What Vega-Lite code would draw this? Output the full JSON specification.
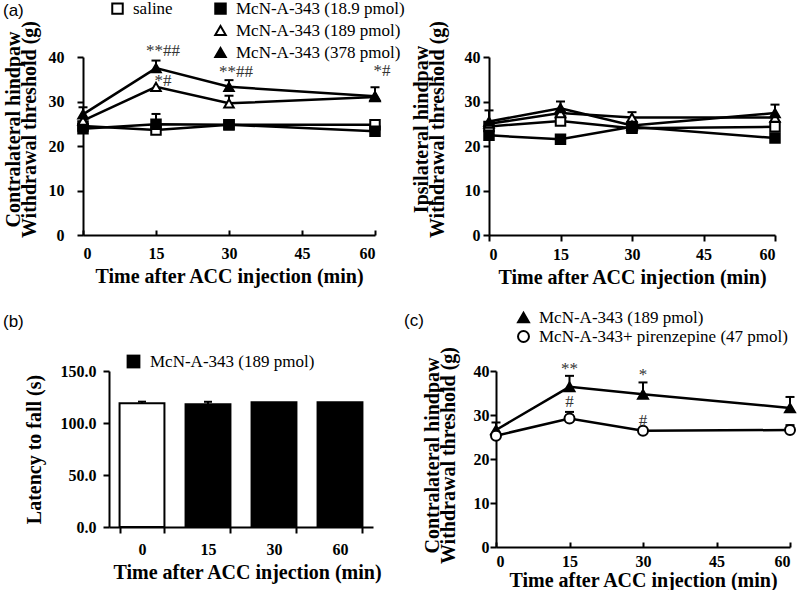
{
  "$schema": "https://vega.github.io/schema/vega-lite/v6.json",
  "background": "white",
  "padding": {"left": 2, "top": 0, "right": 0, "bottom": 0},
  "config": {
    "font": "Liberation Serif",
    "view": {"stroke": null},
    "axis": {"domainColor": "black", "domainWidth": 2, "tickColor": "black", "tickWidth": 2, "labelFont": "Liberation Serif", "labelFontWeight": "bold", "labelFontSize": 16, "labelColor": "black", "titleFont": "Liberation Serif", "titleFontWeight": "bold", "titleFontSize": 20, "titleColor": "black", "grid": false, "labelAngle": 0},
    "legend": {"labelFont": "Liberation Serif", "labelFontSize": 17, "labelColor": "black", "labelLimit": 400},
    "title": {"font": "Liberation Sans", "fontSize": 17, "fontWeight": "normal", "anchor": "start", "frame": "group", "color": "black"}
  },
  "datasets": {
    "pts": [
      {"panel": "contra", "series": "saline", "time": 0, "value": 24.5, "upper": null},
      {"panel": "contra", "series": "saline", "time": 15, "value": 23.6, "upper": null},
      {"panel": "contra", "series": "saline", "time": 30, "value": 24.8, "upper": null},
      {"panel": "contra", "series": "saline", "time": 60, "value": 24.8, "upper": null},
      {"panel": "contra", "series": "McN-A-343 (18.9 pmol)", "time": 0, "value": 23.9, "upper": null},
      {"panel": "contra", "series": "McN-A-343 (18.9 pmol)", "time": 15, "value": 24.9, "upper": 27.2},
      {"panel": "contra", "series": "McN-A-343 (18.9 pmol)", "time": 30, "value": 24.8, "upper": null},
      {"panel": "contra", "series": "McN-A-343 (18.9 pmol)", "time": 60, "value": 23.3, "upper": null},
      {"panel": "contra", "series": "McN-A-343 (189 pmol)", "time": 0, "value": 25.7, "upper": null},
      {"panel": "contra", "series": "McN-A-343 (189 pmol)", "time": 15, "value": 33.3, "upper": null},
      {"panel": "contra", "series": "McN-A-343 (189 pmol)", "time": 30, "value": 29.6, "upper": 31.3},
      {"panel": "contra", "series": "McN-A-343 (189 pmol)", "time": 60, "value": 31.0, "upper": null},
      {"panel": "contra", "series": "McN-A-343 (378 pmol)", "time": 0, "value": 27.1, "upper": 28.7},
      {"panel": "contra", "series": "McN-A-343 (378 pmol)", "time": 15, "value": 37.5, "upper": 39.2},
      {"panel": "contra", "series": "McN-A-343 (378 pmol)", "time": 30, "value": 33.3, "upper": 34.8},
      {"panel": "contra", "series": "McN-A-343 (378 pmol)", "time": 60, "value": 31.2, "upper": 33.2},
      {"panel": "ipsi", "series": "saline", "time": 0, "value": 24.4, "upper": null},
      {"panel": "ipsi", "series": "saline", "time": 15, "value": 25.6, "upper": null},
      {"panel": "ipsi", "series": "saline", "time": 30, "value": 24.0, "upper": null},
      {"panel": "ipsi", "series": "saline", "time": 60, "value": 24.3, "upper": null},
      {"panel": "ipsi", "series": "McN-A-343 (18.9 pmol)", "time": 0, "value": 22.4, "upper": null},
      {"panel": "ipsi", "series": "McN-A-343 (18.9 pmol)", "time": 15, "value": 21.5, "upper": null},
      {"panel": "ipsi", "series": "McN-A-343 (18.9 pmol)", "time": 30, "value": 24.3, "upper": null},
      {"panel": "ipsi", "series": "McN-A-343 (18.9 pmol)", "time": 60, "value": 21.8, "upper": null},
      {"panel": "ipsi", "series": "McN-A-343 (189 pmol)", "time": 0, "value": 25.0, "upper": null},
      {"panel": "ipsi", "series": "McN-A-343 (189 pmol)", "time": 15, "value": 27.4, "upper": null},
      {"panel": "ipsi", "series": "McN-A-343 (189 pmol)", "time": 30, "value": 26.4, "upper": 27.6},
      {"panel": "ipsi", "series": "McN-A-343 (189 pmol)", "time": 60, "value": 26.4, "upper": null},
      {"panel": "ipsi", "series": "McN-A-343 (378 pmol)", "time": 0, "value": 25.5, "upper": 28.0},
      {"panel": "ipsi", "series": "McN-A-343 (378 pmol)", "time": 15, "value": 28.5, "upper": 30.0},
      {"panel": "ipsi", "series": "McN-A-343 (378 pmol)", "time": 30, "value": 24.6, "upper": null},
      {"panel": "ipsi", "series": "McN-A-343 (378 pmol)", "time": 60, "value": 27.4, "upper": 29.3},
      {"panel": "c", "series": "McN-A-343 (189 pmol)", "time": 0, "value": 26.6, "upper": 28.3},
      {"panel": "c", "series": "McN-A-343 (189 pmol)", "time": 15, "value": 36.4, "upper": 38.9},
      {"panel": "c", "series": "McN-A-343 (189 pmol)", "time": 30, "value": 34.7, "upper": 37.4},
      {"panel": "c", "series": "McN-A-343 (189 pmol)", "time": 60, "value": 31.6, "upper": 34.1},
      {"panel": "c", "series": "McN-A-343+ pirenzepine (47 pmol)", "time": 0, "value": 25.3, "upper": null},
      {"panel": "c", "series": "McN-A-343+ pirenzepine (47 pmol)", "time": 15, "value": 29.2, "upper": 30.7},
      {"panel": "c", "series": "McN-A-343+ pirenzepine (47 pmol)", "time": 30, "value": 26.4, "upper": null},
      {"panel": "c", "series": "McN-A-343+ pirenzepine (47 pmol)", "time": 60, "value": 26.6, "upper": 27.7}
    ],
    "ann": [
      {"panel": "contra", "time": 15, "value": 40.2, "label": "**##"},
      {"panel": "contra", "time": 15, "value": 33.5, "label": "*#"},
      {"panel": "contra", "time": 30, "value": 35.5, "label": "**##"},
      {"panel": "contra", "time": 60, "value": 35.7, "label": "*#"},
      {"panel": "c", "time": 15, "value": 39.4, "label": "**"},
      {"panel": "c", "time": 15, "value": 31.9, "label": "#"},
      {"panel": "c", "time": 30, "value": 38.0, "label": "*"},
      {"panel": "c", "time": 30, "value": 27.6, "label": "#"}
    ],
    "bars": [
      {"time": "0", "group": "pre", "value": 119.0, "upper": 120.5},
      {"time": "15", "group": "McN-A-343 (189 pmol)", "value": 118.0, "upper": 120.4},
      {"time": "30", "group": "McN-A-343 (189 pmol)", "value": 120.0, "upper": null},
      {"time": "60", "group": "McN-A-343 (189 pmol)", "value": 120.0, "upper": null}
    ]
  },
  "columns": 1,
  "align": "none",
  "spacing": 22,
  "resolve": {"scale": {"fill": "independent", "stroke": "independent", "shape": "independent"}, "legend": {"fill": "independent", "stroke": "independent", "shape": "independent"}},
  "concat": [
    {
      "spacing": 5,
      "resolve": {"scale": {"fill": "independent", "stroke": "independent", "shape": "independent"}, "legend": {"fill": "independent", "stroke": "independent", "shape": "independent"}},
      "hconcat": [
        {
          "width": 292, "height": 178,
          "title": {"text": "(a)", "dx": -80, "offset": -20},
          "encoding": {
            "x": {"field": "time", "type": "quantitative", "scale": {"domain": [0, 60], "nice": false}, "axis": {"title": "Time after ACC injection (min)", "values": [0, 15, 30, 45, 60], "tickSize": -5, "labelPadding": 15, "titlePadding": 5}},
            "y": {"field": "value", "type": "quantitative", "scale": {"domain": [0, 40], "nice": false}, "axis": {"title": ["Contralateral hindpaw", "Withdrawal threshold (g)"], "values": [0, 10, 20, 30, 40], "tickSize": 6, "labelPadding": 13, "titleBaseline": "top", "titleX": -80, "titleY": 72, "titleLineHeight": 16}}
          },
          "layer": [
            {"data": {"name": "pts"}, "transform": [{"filter": "datum.panel === 'contra' && isValid(datum.upper)"}], "mark": {"type": "rule", "color": "black", "strokeWidth": 2}, "encoding": {"y2": {"field": "upper"}}},
            {"data": {"name": "pts"}, "transform": [{"filter": "datum.panel === 'contra' && isValid(datum.upper)"}], "mark": {"type": "tick", "orient": "horizontal", "size": 9, "thickness": 2, "color": "black", "opacity": 1}, "encoding": {"y": {"field": "upper", "type": "quantitative"}}},
            {"data": {"name": "pts"}, "transform": [{"filter": "datum.panel === 'contra'"}], "mark": {"type": "line", "color": "black", "strokeWidth": 2.5}, "encoding": {"detail": {"field": "series"}}},
            {"data": {"name": "pts"}, "transform": [{"filter": "datum.panel === 'contra'"}], "mark": {"type": "point", "size": 90, "strokeWidth": 2, "opacity": 1},
             "encoding": {
               "shape": {"field": "series", "type": "nominal", "scale": {"domain": ["saline", " ", "  ", "McN-A-343 (18.9 pmol)", "McN-A-343 (189 pmol)", "McN-A-343 (378 pmol)"], "range": ["square", "square", "square", "square", "triangle-up", "triangle-up"]}, "legend": {"orient": "none", "legendX": 26, "legendY": -57, "title": null, "columns": 2, "columnPadding": 38, "rowPadding": 3, "symbolSize": 110, "symbolStrokeWidth": 2, "labelOffset": 7, "labelFont": "Liberation Serif", "labelFontSize": 17}},
               "fill": {"field": "series", "type": "nominal", "scale": {"domain": ["saline", " ", "  ", "McN-A-343 (18.9 pmol)", "McN-A-343 (189 pmol)", "McN-A-343 (378 pmol)"], "range": ["white", "transparent", "transparent", "black", "white", "black"]}, "legend": {"orient": "none", "legendX": 26, "legendY": -57, "title": null, "columns": 2, "columnPadding": 38, "rowPadding": 3, "symbolSize": 110, "symbolStrokeWidth": 2, "labelOffset": 7, "labelFont": "Liberation Serif", "labelFontSize": 17}},
               "stroke": {"field": "series", "type": "nominal", "scale": {"domain": ["saline", " ", "  ", "McN-A-343 (18.9 pmol)", "McN-A-343 (189 pmol)", "McN-A-343 (378 pmol)"], "range": ["black", "transparent", "transparent", "black", "black", "black"]}, "legend": {"orient": "none", "legendX": 26, "legendY": -57, "title": null, "columns": 2, "columnPadding": 38, "rowPadding": 3, "symbolSize": 110, "symbolStrokeWidth": 2, "labelOffset": 7, "labelFont": "Liberation Serif", "labelFontSize": 17}}
             }},
            {"data": {"name": "ann"}, "transform": [{"filter": "datum.panel === 'contra'"}], "mark": {"type": "text", "dx": 7, "fontSize": 17, "font": "Liberation Serif", "color": "#333", "baseline": "alphabetic", "align": "center"}, "encoding": {"text": {"field": "label"}}}
          ]
        },
        {
          "width": 286, "height": 178,
          "encoding": {
            "x": {"field": "time", "type": "quantitative", "scale": {"domain": [0, 60], "nice": false}, "axis": {"title": "Time after ACC injection (min)", "values": [0, 15, 30, 45, 60], "tickSize": 6, "labelPadding": 5, "titlePadding": 5}},
            "y": {"field": "value", "type": "quantitative", "scale": {"domain": [0, 40], "nice": false}, "axis": {"title": ["Ipsilateral hindpaw", "Withdrawal threshold (g)"], "values": [0, 10, 20, 30, 40], "tickSize": 6, "labelPadding": 3, "titleBaseline": "top", "titleX": -78, "titleY": 72, "titleLineHeight": 16}}
          },
          "layer": [
            {"data": {"name": "pts"}, "transform": [{"filter": "datum.panel === 'ipsi' && isValid(datum.upper)"}], "mark": {"type": "rule", "color": "black", "strokeWidth": 2}, "encoding": {"y2": {"field": "upper"}}},
            {"data": {"name": "pts"}, "transform": [{"filter": "datum.panel === 'ipsi' && isValid(datum.upper)"}], "mark": {"type": "tick", "orient": "horizontal", "size": 9, "thickness": 2, "color": "black", "opacity": 1}, "encoding": {"y": {"field": "upper", "type": "quantitative"}}},
            {"data": {"name": "pts"}, "transform": [{"filter": "datum.panel === 'ipsi'"}], "mark": {"type": "line", "color": "black", "strokeWidth": 2.5}, "encoding": {"detail": {"field": "series"}}},
            {"data": {"name": "pts"}, "transform": [{"filter": "datum.panel === 'ipsi'"}], "mark": {"type": "point", "size": 90, "strokeWidth": 2, "opacity": 1},
             "encoding": {
               "shape": {"field": "series", "type": "nominal", "scale": {"domain": ["saline", "McN-A-343 (18.9 pmol)", "McN-A-343 (189 pmol)", "McN-A-343 (378 pmol)"], "range": ["square", "square", "triangle-up", "triangle-up"]}, "legend": null},
               "fill": {"field": "series", "type": "nominal", "scale": {"domain": ["saline", "McN-A-343 (18.9 pmol)", "McN-A-343 (189 pmol)", "McN-A-343 (378 pmol)"], "range": ["white", "black", "white", "black"]}, "legend": null},
               "stroke": {"field": "series", "type": "nominal", "scale": {"domain": ["saline", "McN-A-343 (18.9 pmol)", "McN-A-343 (189 pmol)", "McN-A-343 (378 pmol)"], "range": ["black", "black", "black", "black"]}, "legend": null}
             }}
          ]
        }
      ]
    },
    {
      "spacing": 22,
      "resolve": {"scale": {"fill": "independent", "stroke": "independent", "shape": "independent"}, "legend": {"fill": "independent", "stroke": "independent", "shape": "independent"}},
      "hconcat": [
        {
          "width": 290, "height": 156,
          "title": {"text": "(b)", "dx": -80, "offset": 22},
          "data": {"name": "bars"},
          "encoding": {
            "x": {"field": "time", "type": "ordinal", "sort": ["0", "15", "30", "60"], "scale": {"range": [26, 290], "paddingInner": 0.32, "paddingOuter": 0.16}, "axis": {"title": "Time after ACC injection (min)", "tickBand": "extent", "tickSize": 6, "labelPadding": 8, "titlePadding": 5, "labelAngle": 0, "titleX": 164}},
            "y": {"field": "value", "type": "quantitative", "scale": {"domain": [0, 150], "nice": false}, "axis": {"title": "Latency to fall (s)", "values": [0, 50, 100, 150], "format": ".1f", "offset": -26, "tickSize": 6, "labelPadding": 7, "titleX": -65}}
          },
          "layer": [
            {"transform": [{"filter": "isValid(datum.upper)"}], "mark": {"type": "rule", "color": "black", "strokeWidth": 2}, "encoding": {"y2": {"field": "upper"}}},
            {"transform": [{"filter": "isValid(datum.upper)"}], "mark": {"type": "tick", "orient": "horizontal", "size": 8, "thickness": 2, "color": "black", "opacity": 1}, "encoding": {"y": {"field": "upper", "type": "quantitative"}}},
            {"mark": {"type": "bar", "stroke": "black", "strokeWidth": 2}, "encoding": {"fill": {"field": "group", "type": "nominal", "scale": {"domain": ["pre", "McN-A-343 (189 pmol)"], "range": ["white", "black"]}, "legend": {"values": ["McN-A-343 (189 pmol)"], "orient": "none", "legendX": 42, "legendY": -18, "title": null, "symbolType": "square", "symbolSize": 190, "symbolStrokeWidth": 0, "labelFont": "Liberation Serif", "labelFontSize": 17, "labelOffset": 8}}}}
          ]
        },
        {
          "width": 294, "height": 176,
          "title": {"text": "(c)", "dx": -92, "offset": -21},
          "encoding": {
            "x": {"field": "time", "type": "quantitative", "scale": {"domain": [0, 60], "nice": false}, "axis": {"title": "Time after ACC injection (min)", "values": [0, 15, 30, 45, 60], "tickSize": -5, "labelPadding": 11, "titlePadding": 1}},
            "y": {"field": "value", "type": "quantitative", "scale": {"domain": [0, 40], "nice": false}, "axis": {"title": ["Contralateral hindpaw", "Withdrawal threshold (g)"], "values": [0, 10, 20, 30, 40], "tickSize": 6, "labelPadding": 1, "titleBaseline": "top", "titleX": -74, "titleY": 84, "titleLineHeight": 16}}
          },
          "layer": [
            {"data": {"name": "pts"}, "transform": [{"filter": "datum.panel === 'c' && isValid(datum.upper)"}], "mark": {"type": "rule", "color": "black", "strokeWidth": 2}, "encoding": {"y2": {"field": "upper"}}},
            {"data": {"name": "pts"}, "transform": [{"filter": "datum.panel === 'c' && isValid(datum.upper)"}], "mark": {"type": "tick", "orient": "horizontal", "size": 9, "thickness": 2, "color": "black", "opacity": 1}, "encoding": {"y": {"field": "upper", "type": "quantitative"}}},
            {"data": {"name": "pts"}, "transform": [{"filter": "datum.panel === 'c'"}], "mark": {"type": "line", "color": "black", "strokeWidth": 2.5}, "encoding": {"detail": {"field": "series"}}},
            {"data": {"name": "pts"}, "transform": [{"filter": "datum.panel === 'c'"}], "mark": {"type": "point", "size": 100, "strokeWidth": 2, "opacity": 1},
             "encoding": {
               "shape": {"field": "series", "type": "nominal", "scale": {"domain": ["McN-A-343 (189 pmol)", "McN-A-343+ pirenzepine (47 pmol)"], "range": ["triangle-up", "circle"]}, "legend": {"orient": "none", "legendX": 19, "legendY": -62, "title": null, "rowPadding": 0, "symbolSize": 120, "symbolStrokeWidth": 2, "labelOffset": 7, "labelFont": "Liberation Serif", "labelFontSize": 17}},
               "fill": {"field": "series", "type": "nominal", "scale": {"domain": ["McN-A-343 (189 pmol)", "McN-A-343+ pirenzepine (47 pmol)"], "range": ["black", "white"]}, "legend": {"orient": "none", "legendX": 19, "legendY": -62, "title": null, "rowPadding": 0, "symbolSize": 120, "symbolStrokeWidth": 2, "labelOffset": 7, "labelFont": "Liberation Serif", "labelFontSize": 17}},
               "stroke": {"field": "series", "type": "nominal", "scale": {"domain": ["McN-A-343 (189 pmol)", "McN-A-343+ pirenzepine (47 pmol)"], "range": ["black", "black"]}, "legend": {"orient": "none", "legendX": 19, "legendY": -62, "title": null, "rowPadding": 0, "symbolSize": 120, "symbolStrokeWidth": 2, "labelOffset": 7, "labelFont": "Liberation Serif", "labelFontSize": 17}}
             }},
            {"data": {"name": "ann"}, "transform": [{"filter": "datum.panel === 'c'"}], "mark": {"type": "text", "fontSize": 17, "font": "Liberation Serif", "color": "#333", "baseline": "alphabetic", "align": "center"}, "encoding": {"text": {"field": "label"}}}
          ]
        }
      ]
    }
  ]
}
